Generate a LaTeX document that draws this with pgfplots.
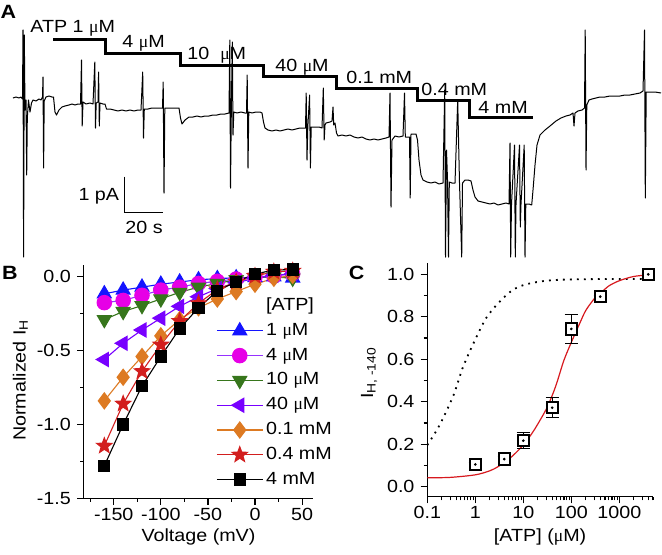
\documentclass[border=0pt]{standalone}
\usepackage{fontspec}
\setmainfont{Liberation Sans}[FakeStretch=1.12]
\newfontfamily\symfont{Liberation Serif}
\usepackage{pgfplots}
\pgfplotsset{compat=1.18}
\newcommand{\um}{{\symfont μ}M}
\definecolor{cblue}{RGB}{20,20,255}
\definecolor{cmag}{RGB}{230,0,230}
\definecolor{cmagline}{RGB}{150,50,255}
\definecolor{cgreen}{RGB}{55,118,28}
\definecolor{cviolet}{RGB}{120,0,255}
\definecolor{corange}{RGB}{221,122,34}
\definecolor{cred}{RGB}{210,30,30}
\definecolor{cblack}{RGB}{0,0,0}
\definecolor{cfit}{RGB}{215,25,30}
\pgfdeclareplotmark{fstar}{%
  \pgfpathmoveto{\pgfqpointpolar{90}{\pgfplotmarksize}}%
  \pgfpathlineto{\pgfqpointpolar{126}{0.42\pgfplotmarksize}}%
  \pgfpathlineto{\pgfqpointpolar{162}{\pgfplotmarksize}}%
  \pgfpathlineto{\pgfqpointpolar{198}{0.42\pgfplotmarksize}}%
  \pgfpathlineto{\pgfqpointpolar{234}{\pgfplotmarksize}}%
  \pgfpathlineto{\pgfqpointpolar{270}{0.42\pgfplotmarksize}}%
  \pgfpathlineto{\pgfqpointpolar{306}{\pgfplotmarksize}}%
  \pgfpathlineto{\pgfqpointpolar{342}{0.42\pgfplotmarksize}}%
  \pgfpathlineto{\pgfqpointpolar{18}{\pgfplotmarksize}}%
  \pgfpathlineto{\pgfqpointpolar{54}{0.42\pgfplotmarksize}}%
  \pgfpathclose\pgfusepathqfillstroke}
\pgfplotsset{
  panel/.style={
    scale only axis, clip=false,
    axis x line*=bottom, axis y line*=left,
    tick align=outside,
    major tick length=3.3pt, minor tick length=1.8pt,
    every tick/.style={black, line width=0.6pt},
    axis line style={line width=0.7pt},
    tick label style={font=\fontsize{8.8}{10}\selectfont},
    xticklabel style={yshift=1.5pt},
    label style={font=\fontsize{8.8}{10}\selectfont},
  }
}
\begin{document}
\fontsize{8.8}{10.5}\selectfont
\begin{tikzpicture}
\useasboundingbox (0,0) rectangle (331pt,-277.5pt);
% ---------------- Panel A (pixel coordinates) ----------------
\begin{axis}[at={(0pt,0pt)}, anchor=north west, width=331pt, height=277.5pt,
  scale only axis, xmin=0, xmax=662, ymin=0, ymax=555, y dir=reverse,
  hide axis, clip=false]
\addplot[black, line width=0.5pt, line join=round] coordinates {
(13,98) (16,97) (19,98) (21,97) (22.5,99) (23,30) (23.6,257) (24.3,35) (25,110) (26,100) (26.7,175) (27.3,118) (28.5,100) (30,112) (31.5,103) (33,100) (36,101) (39,99) (41,100) (42.5,97) (43,77) (43.6,168) (44.2,101) (46,97) (49,96) (52,97) (53.5,97) (55,112) (56.5,115) (59,110) (62,107) (65,106) (69,105) (72,104) (75,105) (78,104) (80.5,104) (81.5,60) (82.2,126) (83,102) (86,104) (90,103) (93,104) (94.8,62) (95.5,128) (96.2,103) (98,102) (98.6,72) (99.3,126) (100,103) (103,104) (105,104) (106.5,109) (110,109) (114,110) (118,111) (122,110) (126,111) (130,110) (134,111) (138,110) (141,110) (142.7,72) (143.5,138) (144.3,109) (148,109) (152,108) (156,108) (160,108) (162.5,108) (163.2,82) (164,193) (164.8,108) (168,108) (172,108) (176,108) (179,108) (180.5,118) (182,124) (185,120) (189,117) (193,117) (197,116) (201,117) (205,116) (209,116) (213,115) (217,115) (221,114) (225,114) (229,113) (229.8,40) (230.5,188) (231.3,112) (232.3,42) (233,135) (233.8,112) (237,113) (241,112) (245,113) (246.5,113) (247.2,75) (248,168) (248.8,112) (252,113) (256,112) (260,112) (262,113) (263.5,122) (265,128) (268,130) (272,131) (276,130) (280,131) (284,130) (288,129) (292,130) (296,129) (300,128) (304,128) (305.5,128) (306.2,93) (307,160) (307.8,127) (309.6,95) (310.4,168) (311.2,127) (315,127) (319,127) (322,128) (323.3,88) (324.2,140) (325,125) (326,123) (330,122) (332,121) (333,107) (333.7,125) (335,123) (336.5,133) (338,136) (342,135) (346,136) (350,135) (354,137) (358,138) (362,137) (366,139) (370,140) (374,139) (378,140) (382,139) (386,138) (389,137) (390,93) (391,207) (392,140) (395,136) (399,137) (403,136) (404.5,93) (405.3,137) (409.5,137) (410.2,198) (411,134) (412,134) (416,134) (417.5,140) (419,160) (421,175) (423,180) (427,182) (431,183) (435,182) (439,184) (443,183) (444.7,90) (445.5,257) (446.5,150) (447.5,180) (448.5,257) (449.3,182) (452,183) (455,183) (457.7,100) (458.5,138) (459.5,183) (461.7,257) (462.5,183) (465,180) (468,180) (471,181) (473,190) (475,197) (478,201) (482,202) (486,203) (490,204) (494,203) (498,205) (502,204) (506,203) (509,204) (510,143) (510.7,257) (511.5,204) (514.5,145) (515.3,257) (516,204) (519.5,145) (520.3,227) (521,204) (524.2,145) (525,257) (525.8,204) (529,204) (531.7,205) (533,190) (535,165) (537,145) (540,135) (545,130) (550,126) (556,121) (561,118) (566,116) (570,115) (573,113) (574,126) (575,113) (578,111) (582,110) (584.5,108) (585.2,30) (586,170) (586.8,105) (589,100) (592,99) (596,98) (600,97) (605,97) (610,96) (615,96) (620,96) (625,95) (630,95) (635,94) (640,93) (643,91) (644,50) (644.5,30) (645.3,198) (646.2,92) (650,92) (655,92) (661,93)
};
\addplot[black, line width=1.5pt, line join=miter] coordinates {
(53,39.5) (105,39.5) (105,53.3) (180,53.3) (180,65) (263,65) (263,76.7) (336,76.7) (336,88.3) (417.7,88.3) (417.7,100) (469.3,100) (469.3,117.3) (532.7,117.3)
};
\addplot[black, line width=0.5pt] coordinates {(124.3,176.7) (124.3,212.7) (163.3,212.7)};
\node[anchor=base west, inner sep=0pt] at (axis cs:30,33) {ATP 1 \um};
\node[anchor=base west, inner sep=0pt] at (axis cs:122,47.7) {4 \um};
\node[anchor=base west, inner sep=0pt] at (axis cs:187,59) {10\ \ \um};
\node[anchor=base west, inner sep=0pt] at (axis cs:275,71.7) {40 \um};
\node[anchor=base west, inner sep=0pt] at (axis cs:346,83) {0.1 mM};
\node[anchor=base west, inner sep=0pt] at (axis cs:421,95) {0.4 mM};
\node[anchor=base west, inner sep=0pt] at (axis cs:478,113) {4 mM};
\node[anchor=base east, inner sep=0pt] at (axis cs:119.5,200.5) {1 pA};
\node[anchor=base west, inner sep=0pt] at (axis cs:125,233.5) {20 s};
\node[font=\fontsize{9.6}{11}\bfseries\selectfont, inner sep=0pt] at (axis cs:8.5,11.7) {A};
\node[font=\fontsize{9.6}{11}\bfseries\selectfont, inner sep=0pt] at (axis cs:10,273.3) {B};
\node[font=\fontsize{9.6}{11}\bfseries\selectfont, inner sep=0pt] at (axis cs:356.7,273.3) {C};
\end{axis}
% ---------------- Panel B ----------------
\begin{axis}[panel, at={(41.8pt,-249.15pt)}, anchor=south west,
  width=114.9pt, height=116.65pt,
  xmin=-182, xmax=62, ymin=-1.5, ymax=0.08,
  xtick={-150,-100,-50,0,50}, xticklabels={-150,-100,-50,0,50},
  minor xtick={-175,-125,-75,-25,25},
  ytick={-1.5,-1,-0.5,0}, yticklabels={-1.5,-1.0,-0.5,0.0},
  minor ytick={-1.25,-0.75,-0.25},
  xlabel={Voltage (mV)}, ylabel={Normalized I\textsubscript{H}},
  xlabel style={at={(axis description cs:0.5,-0.165)}, anchor=center},
  ylabel style={at={(axis description cs:-0.275,0.507)}, anchor=center, rotate=0},
  legend image code/.code={\draw[mark repeat=2,mark phase=2,#1] plot coordinates {(0pt,0pt) (11.4pt,0pt) (22.8pt,0pt)};},
  legend cell align=left,
  legend style={draw=none, fill=none, inner sep=0pt, row sep=1.9pt, column sep=1pt,
    at={(axis cs:-41.4,-0.124)}, anchor=north west,
    nodes={inner sep=0.5pt, text height=7pt, text depth=2.5pt, font=\fontsize{8.8}{10}\selectfont}},
]
\addlegendimage{empty legend}
\addlegendentry{[ATP]}
\addplot[cblue, line width=0.55pt, mark=triangle*, mark size=4pt, mark options={fill=cblue, draw=cblue}] coordinates {
(-160,-0.115) (-140,-0.09) (-120,-0.07) (-100,-0.05) (-80,-0.035) (-60,-0.02) (-40,-0.012) (-20,-0.007) (0,-0.005) (20,0) (40,-0.008)};
\addlegendentry{1 \um}
\addplot[cmagline, line width=0.55pt, mark=*, mark size=3.6pt, mark options={fill=cmag, draw=cmag}] coordinates {
(-160,-0.175) (-140,-0.16) (-120,-0.125) (-100,-0.09) (-80,-0.07) (-60,-0.045) (-40,-0.03) (-20,-0.015) (0,0) (20,0.005) (40,0.02)};
\addlegendentry{4 \um}
\addplot[cgreen, line width=0.55pt, mark=triangle*, mark size=4pt, mark options={fill=cgreen, draw=cgreen, rotate=180}] coordinates {
(-160,-0.29) (-140,-0.235) (-120,-0.195) (-100,-0.15) (-80,-0.105) (-60,-0.07) (-40,-0.045) (-20,-0.02) (0,-0.005) (20,0) (40,-0.01)};
\addlegendentry{10 \um}
\addplot[cviolet, line width=0.55pt, mark=triangle*, mark size=4pt, mark options={fill=cviolet, draw=cviolet, rotate=90}] coordinates {
(-160,-0.56) (-140,-0.45) (-120,-0.36) (-100,-0.28) (-80,-0.2) (-60,-0.135) (-40,-0.08) (-20,-0.04) (0,-0.01) (20,0.01) (40,0.02)};
\addlegendentry{40 \um}
\addplot[corange, line width=0.55pt, mark=diamond*, mark size=4pt, mark options={fill=corange, draw=corange}] coordinates {
(-160,-0.84) (-140,-0.68) (-120,-0.54) (-100,-0.4) (-80,-0.29) (-60,-0.21) (-40,-0.15) (-20,-0.1) (0,-0.05) (20,-0.01) (40,0.01)};
\addlegendentry{0.1 mM}
\addplot[cred, line width=0.55pt, mark=fstar, mark size=4pt, mark options={fill=cred, draw=cred}] coordinates {
(-160,-1.145) (-140,-0.86) (-120,-0.64) (-100,-0.46) (-80,-0.3) (-60,-0.18) (-40,-0.086) (-20,-0.034) (0,0.005) (20,0.034) (40,0.04)};
\addlegendentry{0.4 mM}
\addplot[black, line width=0.55pt, mark=square*, mark size=2.8pt, mark options={fill=black, draw=black}] coordinates {
(-160,-1.28) (-140,-1.0) (-120,-0.74) (-100,-0.54) (-80,-0.35) (-60,-0.21) (-40,-0.095) (-20,-0.034) (0,0.02) (20,0.045) (40,0.05)};
\addlegendentry{4 mM}
\end{axis}
% ---------------- Panel C ----------------
\begin{axis}[panel, at={(213.65pt,-248.35pt)}, anchor=south west,
  width=112.8pt, height=116.7pt,
  xmode=log, log basis x=10,
  xmin=0.1, xmax=5000, ymin=-0.047, ymax=1.052,
  xtick={0.1,1,10,100,1000}, xticklabels={0.1,1,10,100,1000},
  minor xtick={0.2,0.3,0.4,0.5,0.6,0.7,0.8,0.9,2,3,4,5,6,7,8,9,20,30,40,50,60,70,80,90,200,300,400,500,600,700,800,900,2000,3000,4000,5000},
  ytick={0,0.2,0.4,0.6,0.8,1.0}, yticklabels={0.0,0.2,0.4,0.6,0.8,1.0},
  minor ytick={0.1,0.3,0.5,0.7,0.9},
  xlabel={[ATP] (\um)}, ylabel={I\textsubscript{H, -140}},
  xlabel style={at={(axis description cs:0.5,-0.172)}, anchor=center},
  ylabel style={at={(axis description cs:-0.258,0.53)}, anchor=center},
]
\addplot[black, line width=0.9pt, dash pattern=on 0.9pt off 2.6pt, smooth] coordinates {
(0.1,0.196) (0.18,0.29) (0.35,0.43) (0.54,0.557) (0.88,0.667) (1.67,0.793) (3.2,0.871) (6,0.926) (11.4,0.953) (30,0.97) (90,0.976) (500,0.978) (5000,0.978)};
\addplot[cfit, line width=0.6pt, smooth] coordinates {
(0.1,0.042) (0.3,0.044) (1,0.056) (2,0.075) (3,0.095) (5,0.13) (7,0.16) (10,0.197) (15,0.25) (20,0.295) (30,0.365) (40,0.43) (50,0.49) (70,0.595) (100,0.68) (150,0.77) (200,0.83) (300,0.885) (400,0.91) (600,0.945) (1000,0.97) (2000,0.99) (5000,1.0)};
\addplot[black, only marks, mark=square*, mark size=2.85pt, mark options={fill=white, draw=black, line width=1pt},
  error bars/.cd, y dir=both, y explicit, error bar style={line width=0.5pt, black},
  error mark options={rotate=90, mark size=3.3pt, line width=0.5pt, black}] coordinates {
(1,0.105) +- (0,0.008) (4,0.13) +- (0,0.01) (10,0.217) +- (0,0.038) (40,0.372) +- (0,0.047) (100,0.743) +- (0,0.067) (400,0.895) +- (0,0.006) (4000,1.0) +- (0,0.004)};
\addplot[black, only marks, mark=*, mark size=0.45pt] coordinates {
(1,0.105) (4,0.13) (10,0.217) (40,0.372) (100,0.743) (400,0.895) (4000,1.0)};
\end{axis}
\end{tikzpicture}
\end{document}
